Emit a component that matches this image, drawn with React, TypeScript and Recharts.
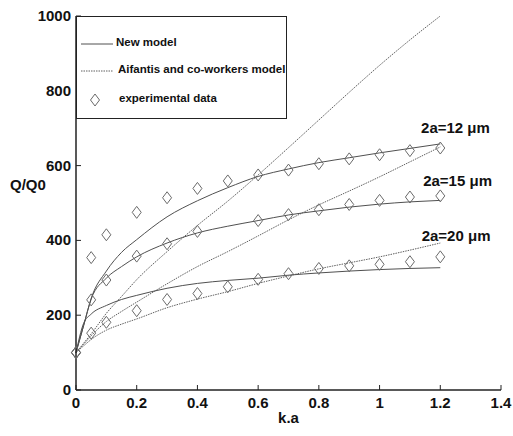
import React from 'react';
import { ComposedChart, Line, XAxis, YAxis, Legend, ReferenceDot } from 'recharts';

const KA = [0, 0.025, 0.05, 0.1, 0.15, 0.2, 0.3, 0.4, 0.5, 0.6, 0.7, 0.8, 0.9, 1.0, 1.1, 1.2];
const NEW_12 = [100, 172, 245, 318, 368, 402, 463, 506, 541, 571, 591, 608, 621, 634, 646, 658];
const NEW_15 = [100, 172, 243, 299, 330, 356, 393, 420, 438, 453, 468, 479, 489, 497, 503, 507];
const NEW_20 = [100, 178, 203, 226, 242, 253, 272, 285, 293, 299, 307, 313, 318, 322, 325, 327];
const AIF_12 = [100, 125, 150, 205, 250, 295, 370, 440, 505, 575, 648, 722, 796, 868, 936, 1000];
const AIF_15 = [100, 122, 145, 183, 210, 235, 284, 330, 370, 412, 455, 495, 532, 570, 610, 650];
const AIF_20 = [100, 118, 135, 160, 176, 190, 220, 243, 263, 285, 305, 324, 340, 356, 374, 393];
const EXP_12 = [100, null, 354, 415, null, 475, 514, 539, 559, 575, 588, 605, 618, 629, 640, 647];
const EXP_15 = [100, null, 241, 294, null, 358, 391, 424, null, 453, 469, 482, 496, 507, 516, 519];
const EXP_20 = [100, null, 152, 181, null, 212, 242, 258, 276, 296, 311, 325, 332, 336, 343, 356];

const X_TICKS = [0, 0.2, 0.4, 0.6, 0.8, 1, 1.2, 1.4];
const Y_TICKS = [0, 200, 400, 600, 800, 1000];

const ANNOTATIONS = [
  { text: '2a=12 μm', x: 1.25, y: 700 },
  { text: '2a=15 μm', x: 1.257, y: 558 },
  { text: '2a=20 μm', x: 1.252, y: 412 },
];

const LEGEND_ITEMS = ['New model', 'Aifantis and co-workers model', 'experimental data'];

const rows = KA.map((x, i) => ({
  x,
  new12: NEW_12[i],
  new15: NEW_15[i],
  new20: NEW_20[i],
  aif12: AIF_12[i],
  aif15: AIF_15[i],
  aif20: AIF_20[i],
  exp12: EXP_12[i],
  exp15: EXP_15[i],
  exp20: EXP_20[i],
}));

const FONT = '"Liberation Sans", Arial, Helvetica, sans-serif';
const AXIS = '#222';
const SOLID = '#505050';
const DOTTED = '#606060';
const MARK = '#6a6a6a';

const Diamond = (props: any) => {
  const { cx, cy, value, index } = props;
  if (value == null || cx == null || cy == null || isNaN(cy)) return <g key={index} />;
  return (
    <path
      key={index}
      d={`M${cx},${cy - 6} L${cx + 4.5},${cy} L${cx},${cy + 6} L${cx - 4.5},${cy} Z`}
      fill="none"
      stroke={MARK}
      strokeWidth={1}
    />
  );
};

const XTick = (props: any) => {
  const { x, y, payload } = props;
  return (
    <g>
      <line x1={x} x2={x} y1={y} y2={y - 5} stroke={AXIS} strokeWidth={1} />
      <text x={x} y={y + 18} textAnchor="middle" fontFamily={FONT} fontWeight="bold" fontSize={15} fill="#111">
        {payload.value}
      </text>
    </g>
  );
};

const YTick = (props: any) => {
  const { x, y, payload } = props;
  return (
    <g>
      <line x1={x} x2={x + 5} y1={y} y2={y} stroke={AXIS} strokeWidth={1} />
      <text x={x - 5} y={y + 5} textAnchor="end" fontFamily={FONT} fontWeight="bold" fontSize={15} fill="#111">
        {payload.value}
      </text>
    </g>
  );
};

const TopTick = (props: any) => {
  const { x, y } = props;
  return <line x1={x} x2={x} y1={y} y2={y + 5} stroke={AXIS} strokeWidth={1} />;
};

const RightTick = (props: any) => {
  const { x, y } = props;
  return <line x1={x} x2={x - 5} y1={y} y2={y} stroke={AXIS} strokeWidth={1} />;
};

const LegendBox = () => (
  <div
    style={{
      position: 'relative',
      width: 211,
      height: 103,
      border: `1px solid ${AXIS}`,
      boxSizing: 'border-box',
      background: '#fff',
      fontFamily: FONT,
      fontWeight: 'bold',
      fontSize: 11.5,
      color: '#111',
    }}
  >
    <svg width={211} height={103} style={{ position: 'absolute', left: 0, top: 0 }}>
      <line x1={4} x2={36} y1={27} y2={27} stroke={SOLID} strokeWidth={1} />
      <line x1={4} x2={36} y1={54} y2={54} stroke={DOTTED} strokeWidth={1} strokeDasharray="1.5 1" />
      <path d="M18,77 L22.5,83 L18,89 L13.5,83 Z" fill="none" stroke={MARK} strokeWidth={1} />
    </svg>
    <span style={{ position: 'absolute', left: 39, top: 19, whiteSpace: 'nowrap' }}>{LEGEND_ITEMS[0]}</span>
    <span style={{ position: 'absolute', left: 41, top: 46, whiteSpace: 'nowrap' }}>{LEGEND_ITEMS[1]}</span>
    <span style={{ position: 'absolute', left: 42, top: 75, whiteSpace: 'nowrap' }}>{LEGEND_ITEMS[2]}</span>
  </div>
);

const Annot = (text: string) => (props: any) => {
  const vb = props.viewBox || {};
  return (
    <text
      x={vb.x}
      y={vb.y + 5}
      textAnchor="middle"
      fontFamily={FONT}
      fontWeight="bold"
      fontSize={15}
      fill="#111"
    >
      {text}
    </text>
  );
};

const lineProps = {
  type: 'monotone' as const,
  strokeWidth: 1,
  dot: false,
  activeDot: false,
  isAnimationActive: false,
  legendType: 'none' as const,
};

export default function App() {
  return (
    <div style={{ position: 'absolute', left: 0, top: 0, width: 513, height: 436, background: '#fff' }}>
      <ComposedChart width={513} height={436} data={rows} margin={{ top: 16, right: 12, bottom: 16, left: 0 }}>
        <XAxis
          dataKey="x"
          type="number"
          domain={[0, 1.4]}
          ticks={X_TICKS}
          tick={<XTick />}
          tickLine={false}
          tickSize={0}
          tickMargin={0}
          height={30}
          axisLine={{ stroke: AXIS, strokeWidth: 1.5 }}
          label={{ value: 'k.a', position: 'bottom', offset: -8, style: { fontFamily: FONT, fontWeight: 'bold', fontSize: 15, fill: '#111' } }}
        />
        <XAxis
          xAxisId="top"
          orientation="top"
          dataKey="x"
          type="number"
          domain={[0, 1.4]}
          ticks={X_TICKS}
          tick={<TopTick />}
          tickLine={false}
          tickSize={0}
          height={0}
          axisLine={{ stroke: AXIS, strokeWidth: 1.2 }}
        />
        <YAxis
          type="number"
          domain={[0, 1000]}
          ticks={Y_TICKS}
          tick={<YTick />}
          tickLine={false}
          tickSize={0}
          tickMargin={0}
          width={76}
          axisLine={{ stroke: AXIS, strokeWidth: 1.5 }}
          label={{ value: 'Q/Q0', position: 'insideLeft', offset: 10, dy: -18, angle: 0, style: { fontFamily: FONT, fontWeight: 'bold', fontSize: 15, fill: '#111', textAnchor: 'start' } }}
        />
        <YAxis
          yAxisId="right"
          orientation="right"
          type="number"
          domain={[0, 1000]}
          ticks={Y_TICKS}
          tick={<RightTick />}
          tickLine={false}
          tickSize={0}
          width={0}
          axisLine={{ stroke: AXIS, strokeWidth: 1.2 }}
        />
        <Legend
          layout="horizontal"
          verticalAlign="middle"
          align="center"
          content={<LegendBox />}
          wrapperStyle={{ left: 76, top: 16, width: 211, height: 103 }}
        />
        <Line {...lineProps} dataKey="aif12" stroke={DOTTED} strokeDasharray="1.5 1" />
        <Line {...lineProps} dataKey="aif15" stroke={DOTTED} strokeDasharray="1.5 1" />
        <Line {...lineProps} dataKey="aif20" stroke={DOTTED} strokeDasharray="1.5 1" />
        <Line {...lineProps} dataKey="new12" stroke={SOLID} />
        <Line {...lineProps} dataKey="new15" stroke={SOLID} />
        <Line {...lineProps} dataKey="new20" stroke={SOLID} />
        <Line dataKey="exp12" stroke="none" strokeWidth={0} dot={<Diamond />} activeDot={false} isAnimationActive={false} legendType="none" />
        <Line dataKey="exp15" stroke="none" strokeWidth={0} dot={<Diamond />} activeDot={false} isAnimationActive={false} legendType="none" />
        <Line dataKey="exp20" stroke="none" strokeWidth={0} dot={<Diamond />} activeDot={false} isAnimationActive={false} legendType="none" />
        {ANNOTATIONS.map((a) => (
          <ReferenceDot key={a.text} x={a.x} y={a.y} r={0} fill="none" stroke="none" label={{ content: Annot(a.text) }} />
        ))}
      </ComposedChart>
    </div>
  );
}
